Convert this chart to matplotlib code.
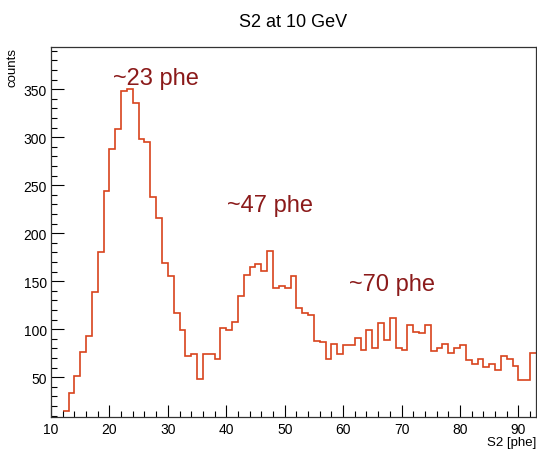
"""
S2 spectrum at 10 GeV (ROOT-style histogram)
"""
import numpy as np
import matplotlib.pyplot as plt
from matplotlib.ticker import MultipleLocator

plt.rcParams['font.family'] = ['Liberation Sans', 'DejaVu Sans']

# bin low edges 12..92, width 1 phe
bin_edges = list(range(12, 94))
counts = [15, 34, 51, 76, 93, 139, 180, 244, 288, 309,
          348, 350, 336, 298, 295, 238, 216, 169, 155, 117,
          99, 72, 74, 48, 74, 74, 69, 101, 99, 108,
          135, 157, 165, 168, 161, 181, 143, 145, 143, 155,
          122, 117, 115, 88, 87, 69, 85, 74, 84, 84,
          91, 78, 99, 80, 106, 89, 112, 81, 78, 104,
          97, 96, 104, 77, 80, 85, 75, 81, 84, 68,
          64, 69, 61, 64, 58, 72, 69, 62, 47, 47, 75]

peak_labels = ['~23 phe', '~47 phe', '~70 phe']
peak_x = [20.6, 40.2, 61.0]
peak_y = [362, 229, 147]

fig = plt.figure(figsize=(5.37, 4.52), dpi=100)
ax = fig.add_axes([0.095, 0.076, 0.903, 0.818])

ax.stairs(counts, bin_edges, baseline=None, color='#d8431c', lw=1.2)

for lab, x, y in zip(peak_labels, peak_x, peak_y):
    ax.text(x, y, lab, color='#8b1a1a', fontsize=17, va='center', ha='left')

ax.set_xlim(10, 93)
ax.set_ylim(9, 394)

ax.xaxis.set_major_locator(MultipleLocator(10))
ax.xaxis.set_minor_locator(MultipleLocator(2))
ax.yaxis.set_major_locator(MultipleLocator(50))
ax.yaxis.set_minor_locator(MultipleLocator(10))
ax.tick_params(which='both', direction='in', top=False, right=False, labelsize=10)
ax.tick_params(which='major', length=9, width=0.8)
ax.tick_params(which='minor', length=4.5, width=0.8)
ax.tick_params(axis='x', pad=4)
ax.tick_params(axis='y', pad=3)
for s in ax.spines.values():
    s.set_linewidth(0.9)
    s.set_color('#333333')

ax.set_title('S2 at 10 GeV', fontsize=13, pad=15)
ax.set_xlabel('S2 [phe]', fontsize=9.5)
ax.xaxis.set_label_coords(1.0, -0.052)
ax.xaxis.label.set_horizontalalignment('right')
ax.set_ylabel('counts', fontsize=9.5)
ax.yaxis.set_label_coords(-0.068, 1.0)
ax.yaxis.label.set_horizontalalignment('right')

fig.savefig('out.png', dpi=100)
